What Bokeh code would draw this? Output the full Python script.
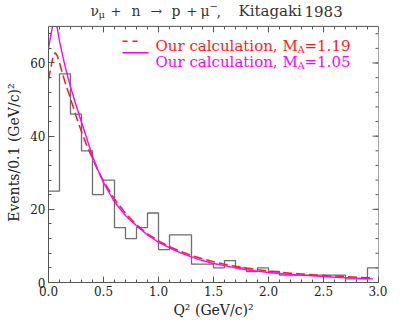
import numpy as np
from bokeh.plotting import figure
from bokeh.models import (SingleIntervalTicker, Range1d, Label,
                          NumeralTickFormatter, Span, BoxAnnotation)
from bokeh.embed import file_html
from bokeh.resources import INLINE

# ---------------- data ----------------
bin_left = [0.0, 0.1, 0.2, 0.3, 0.4, 0.5, 0.6, 0.7, 0.8, 0.9,
            1.0, 1.1, 1.2, 1.3, 1.4, 1.5, 1.6, 1.7, 1.8, 1.9,
            2.0, 2.1, 2.2, 2.3, 2.4, 2.5, 2.6, 2.7, 2.8, 2.9]
bin_width = 0.1
events = [25, 57, 46, 36, 24, 28, 15, 12, 15, 19,
          9, 13, 13, 5, 5, 4, 6, 4, 3, 4,
          3, 2, 2, 2, 2, 2, 2, 1, 1, 4]

q2_red = [0.0, 0.02, 0.04, 0.06, 0.08, 0.10, 0.13, 0.16, 0.20, 0.25,
          0.30, 0.35, 0.40, 0.45, 0.50, 0.60, 0.70, 0.80, 0.90, 1.00,
          1.10, 1.20, 1.30, 1.40, 1.50, 1.60, 1.70, 1.80, 1.90, 2.00,
          2.20, 2.40, 2.60, 2.80, 2.95]
calc_119 = [55.5, 58.5, 61.5, 62.8, 62.0, 60.0, 56.8, 53.8, 50.3, 45.5,
            41.2, 37.3, 33.8, 30.6, 27.7, 22.8, 18.9, 15.8, 13.3, 11.4,
            9.8, 8.5, 7.4, 6.5, 5.7, 5.0, 4.45, 3.95, 3.5, 3.15,
            2.55, 2.1, 1.75, 1.45, 1.25]

q2_mag = [0.0, 0.02, 0.04, 0.06, 0.08, 0.10, 0.13, 0.16, 0.20, 0.25,
          0.30, 0.35, 0.40, 0.45, 0.50, 0.60, 0.70, 0.80, 0.90, 1.00,
          1.10, 1.20, 1.30, 1.40, 1.50, 1.60, 1.70, 1.80, 1.90, 2.00,
          2.20, 2.40, 2.60, 2.80, 2.95]
calc_105 = [64.0, 67.5, 70.5, 71.5, 69.5, 66.0, 61.8, 58.0, 53.5, 48.5,
            43.8, 39.2, 34.5, 30.7, 27.3, 22.0, 18.3, 15.5, 13.0, 11.0,
            9.5, 8.1, 7.0, 6.0, 5.2, 4.6, 4.0, 3.5, 3.1, 2.75,
            2.2, 1.8, 1.45, 1.2, 1.0]

x_lim = (0.0, 3.0)
y_lim = (0.0, 70.0)
x_major, x_minor = 0.5, 0.1
y_major, y_minor = 20, 4

# ---------------- layout (pixels) ----------------
W, H = 387, 320
FL, FR = 48, 378          # frame left / right
FTOP, FB = 26, 283        # y = y_lim[1] position / frame bottom
PX_PER_Y = (FB - FTOP) / (y_lim[1] - y_lim[0])
PX_PER_X = (FR - FL) / (x_lim[1] - x_lim[0])
y_canvas_top = y_lim[0] + FB / PX_PER_Y   # frame reaches canvas top (room for title)

def dx(px):
    return x_lim[0] + (px - FL) / PX_PER_X

def dy(py):
    return y_lim[0] + (FB - py) / PX_PER_Y

SERIF = "DejaVu Serif"
AX = "#555555"
RED = "#ff1a1a"
MAG = "#ff00ff"
NB = "\u00a0"

p = figure(width=W, height=H, output_backend="svg", toolbar_location=None,
           x_range=Range1d(*x_lim), y_range=Range1d(y_lim[0], y_canvas_top),
           min_border_left=FL, min_border_right=W - FR,
           min_border_top=0, min_border_bottom=H - FB,
           x_axis_label="Q² (GeV/c)²",
           y_axis_label="Events/0.1 (GeV/c)²" + NB * 5)
p.grid.visible = False
p.outline_line_color = None
p.background_fill_color = "white"
p.border_fill_color = "white"

xt = SingleIntervalTicker(interval=x_major, num_minor_ticks=5)
yt = SingleIntervalTicker(interval=y_major, num_minor_ticks=5)
p.xaxis.ticker = xt
p.yaxis.ticker = yt
p.xaxis.formatter = NumeralTickFormatter(format="0.0")
p.yaxis.bounds = y_lim

for ax in (p.xaxis[0], p.yaxis[0]):
    ax.major_tick_in = 6
    ax.major_tick_out = 0
    ax.minor_tick_in = 3
    ax.minor_tick_out = 0
    ax.axis_line_color = AX
    ax.major_tick_line_color = AX
    ax.minor_tick_line_color = AX
    ax.major_label_text_font = SERIF
    ax.major_label_text_font_size = "12px"
    ax.major_label_text_color = "#222222"
    ax.axis_label_text_font = SERIF
    ax.axis_label_text_font_size = "14px"
    ax.axis_label_text_font_style = "normal"
    ax.axis_label_text_color = "#222222"
p.xaxis.major_label_standoff = 3
p.xaxis.axis_label_standoff = 3
p.yaxis.major_label_standoff = 3
p.yaxis.axis_label_standoff = 5

# top and right edges of the box with inward ticks
tx_major = np.arange(x_lim[0], x_lim[1] + 1e-9, x_major)
tx_minor = np.arange(x_lim[0], x_lim[1] + 1e-9, x_minor)
ty_major = np.arange(y_lim[0], y_lim[1] + 1e-9, y_major)
ty_minor = np.arange(y_lim[0], y_lim[1] + 1e-9, y_minor)
p.segment(x0=tx_minor, y0=y_lim[1], x1=tx_minor, y1=y_lim[1] - 3 / PX_PER_Y,
          line_color=AX, line_width=1)
p.segment(x0=tx_major, y0=y_lim[1], x1=tx_major, y1=y_lim[1] - 6 / PX_PER_Y,
          line_color=AX, line_width=1)
p.segment(x0=x_lim[1], y0=ty_minor, x1=x_lim[1] - 3 / PX_PER_X, y1=ty_minor,
          line_color=AX, line_width=1)
p.segment(x0=x_lim[1], y0=ty_major, x1=x_lim[1] - 6 / PX_PER_X, y1=ty_major,
          line_color=AX, line_width=1)
p.line([x_lim[1], x_lim[1]], list(y_lim), line_color=AX, line_width=1)

# histogram
edges = bin_left + [bin_left[-1] + bin_width]
vals = events + [events[-1]]
p.step(edges, vals, mode="after", line_color="#6e6e6e", line_width=1.3)

# calculations
p.line(q2_red, calc_119, line_color=RED, line_width=1.5, line_dash="9 4")
p.line(q2_mag, calc_105, line_color=MAG, line_width=1.4)

# mask above the plotting box, then the box's top edge
p.add_layout(BoxAnnotation(bottom=y_lim[1], fill_color="white", fill_alpha=1.0,
                           line_alpha=0))
p.add_layout(Span(location=y_lim[1], dimension="width", line_color=AX,
                  line_width=1))

# legend (manual)
p.line([dx(122), dx(137)], [dy(41), dy(41)], line_color=RED,
       line_width=1.5, line_dash="5 5")
p.line([dx(122), dx(148)], [dy(52.5), dy(52.5)], line_color=MAG,
       line_width=1.4)

def lab(px, py, text, color, size):
    p.add_layout(Label(x=dx(px), y=dy(py), text=text, text_color=color,
                       text_font=SERIF, text_font_size=size,
                       text_baseline="alphabetic", text_align="left"))

for py, val, col in ((46, "1.19", RED), (62, "1.05", MAG)):
    lab(155, py, "Our calculation, M", col, "15px")
    lab(297, py + 3, "A", col, "10px")
    lab(304, py, "=" + val, col, "15px")

# title (manual, with sub/superscripts)
TB = 11
TC = "#333333"
lab(90, TB, "ν", TC, "14px")
lab(98, TB + 3, "μ", TC, "10px")
lab(110, TB, "+", TC, "13px")
lab(131, TB, "n", TC, "14px")
lab(150, TB, "→", TC, "14px")
lab(171, TB, "p", TC, "14px")
lab(186, TB, "+", TC, "13px")
lab(200, TB, "μ", TC, "14px")
lab(209, TB - 5, "−", TC, "10px")
lab(216, TB, ",", TC, "14px")
lab(238, TB, "Kitagaki", TC, "15px")
lab(304, TB, "1983", TC, "15px")

open("out.html", "w").write(file_html(p, INLINE))
